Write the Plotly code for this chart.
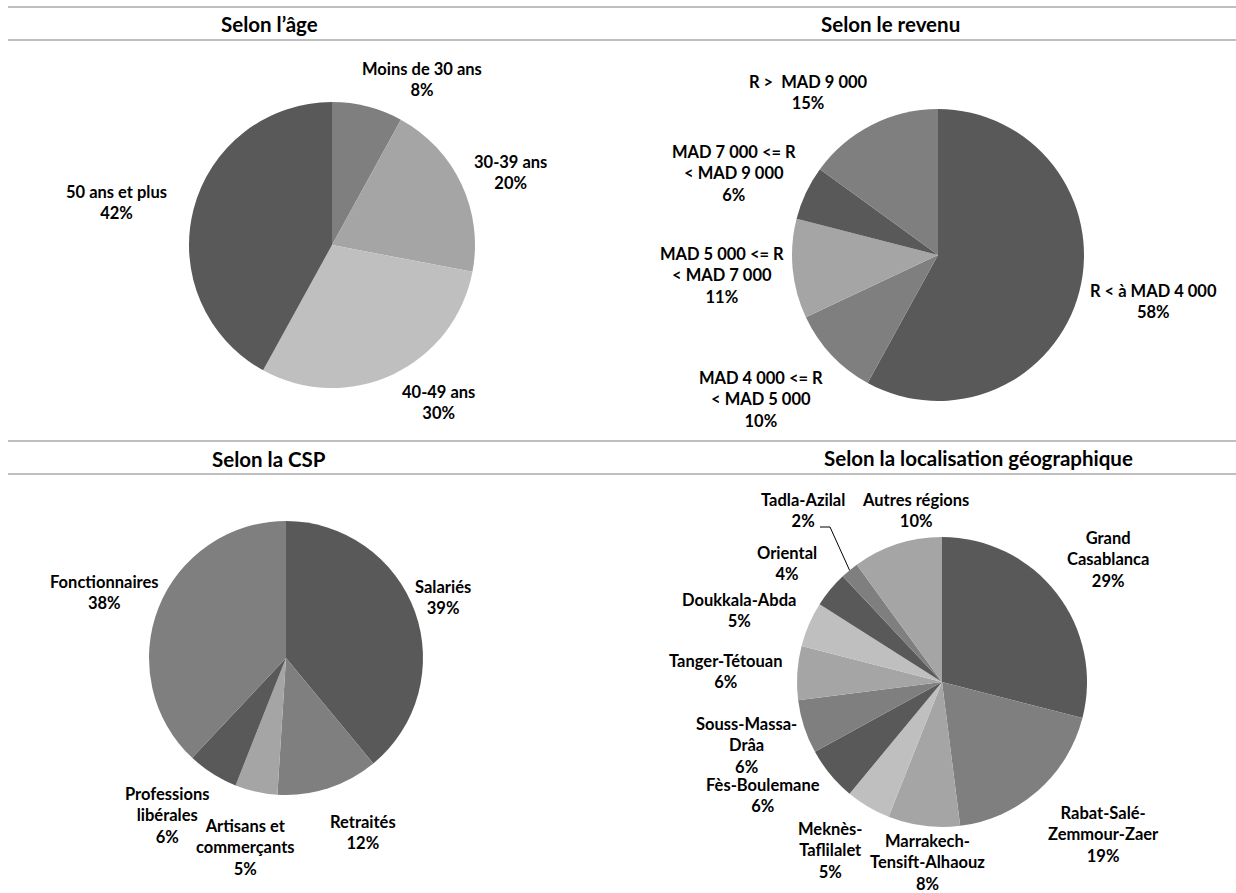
import math
import plotly.graph_objects as go

# ---- data -----------------------------------------------------------------
age_labels = ["Moins de 30 ans", "30-39 ans", "40-49 ans", "50 ans et plus"]
age_values = [8, 20, 30, 42]

rev_labels = ["R < à MAD 4 000", "MAD 4 000 <= R<br>< MAD 5 000",
              "MAD 5 000 <= R<br>< MAD 7 000", "MAD 7 000 <= R<br>< MAD 9 000",
              "R >  MAD 9 000"]
rev_values = [58, 10, 11, 6, 15]

csp_labels = ["Salariés", "Retraités", "Artisans et<br>commerçants",
              "Professions<br>libérales", "Fonctionnaires"]
csp_values = [39, 12, 5, 6, 38]

geo_labels = ["Grand<br>Casablanca", "Rabat-Salé-<br>Zemmour-Zaer",
              "Marrakech-<br>Tensift-Alhaouz", "Meknès-<br>Taflilalet",
              "Fès-Boulemane", "Souss-Massa-<br>Drâa", "Tanger-Tétouan",
              "Doukkala-Abda", "Oriental", "Tadla-Azilal", "Autres régions"]
geo_values = [29, 19, 8, 5, 6, 6, 6, 5, 4, 2, 10]

titles = ["Selon l’âge", "Selon le revenu", "Selon la CSP",
          "Selon la localisation géographique"]

# ---- layout constants (pixels) ---------------------------------------------
W, H = 1236, 893
FONT = "Lato"
LABEL_SIZE = 16.5
TITLE_SIZE = 20.5
DARK, MID, LIGHT, PALE = "#595959", "#7f7f7f", "#a5a5a5", "#bfbfbf"

age_colors = [MID, LIGHT, PALE, DARK]
rev_colors = [DARK, MID, LIGHT, DARK, MID]
csp_colors = [DARK, MID, LIGHT, DARK, MID]
geo_colors = [DARK, MID, LIGHT, PALE, DARK, MID, LIGHT, PALE, DARK, MID, LIGHT]

# pie centre and radius
pie_geom = [(332, 245, 143), (938, 255, 146), (286, 658, 137), (942, 682, 145)]

# label anchor points for each slice
age_pos = [(422, 80), (510, 172), (438, 402), (116, 202)]
rev_pos = [(1153, 302), (761, 399), (722, 275), (734, 174), (808, 93)]
csp_pos = [(443, 597), (363, 832), (245, 847), (167, 815), (104, 592)]
geo_pos = [(1108, 559), (1103, 834), (927, 862), (830, 850), (763, 795),
           (747, 745), (725, 671), (739, 610), (787, 563), (803, 510),
           (915, 510)]

title_pos = [(269, 24), (890, 24), (269, 459), (978, 458)]
rule_rows = [7, 40, 441, 474]


def px(x):
    return x / W


def py(y):
    return 1 - y / H


def bold_lines(text):
    return "<br>".join(f"<b>{part}</b>" for part in text.split("<br>"))


fig = go.Figure()
annotations = []
shapes = []

pies = [
    (age_labels, age_values, age_colors, age_pos),
    (rev_labels, rev_values, rev_colors, rev_pos),
    (csp_labels, csp_values, csp_colors, csp_pos),
    (geo_labels, geo_values, geo_colors, geo_pos),
]

for (labels, values, colors, pos), (cx, cy, r) in zip(pies, pie_geom):
    fig.add_trace(go.Pie(
        labels=[l.replace("<br>", " ") for l in labels],
        values=values,
        sort=False,
        direction="clockwise",
        rotation=0,
        textinfo="none",
        hoverinfo="label+percent",
        marker=dict(colors=colors, line=dict(width=0)),
        domain=dict(x=[px(cx - r), px(cx + r)], y=[py(cy + r), py(cy - r)]),
        showlegend=False,
    ))
    total = sum(values)
    for lab, v, (lx, ly) in zip(labels, values, pos):
        annotations.append(dict(
            x=px(lx), y=py(ly), xref="paper", yref="paper",
            text=bold_lines(f"{lab}<br>{round(100 * v / total)}%"),
            showarrow=False, align="center",
            xanchor="center", yanchor="middle",
            font=dict(family=FONT, size=LABEL_SIZE, color="#000000"),
        ))

# leader line for the small Tadla-Azilal slice
cx, cy, r = pie_geom[3]
idx = geo_labels.index("Tadla-Azilal")
total = sum(geo_values)
mid = (sum(geo_values[:idx]) + geo_values[idx] / 2) / total * 2 * math.pi
ex, ey = cx + r * math.sin(mid), cy - r * math.cos(mid)
lx, ly = geo_pos[idx]
shapes.append(dict(
    type="path", xref="paper", yref="paper",
    path=f"M {px(lx + 17)},{py(ly + 17)} L {px(lx + 27)},{py(ly + 17)} "
         f"L {px(ex)},{py(ey)}",
    line=dict(color="#000000", width=1),
))

# section headings and horizontal rules
for t, (tx, ty) in zip(titles, title_pos):
    annotations.append(dict(
        x=px(tx), y=py(ty), xref="paper", yref="paper", text=f"<b>{t}</b>",
        showarrow=False, xanchor="center", yanchor="middle",
        font=dict(family=FONT, size=TITLE_SIZE, color="#000000"),
    ))
for yy in rule_rows:
    shapes.append(dict(type="line", xref="paper", yref="paper",
                       x0=px(8), x1=1, y0=py(yy), y1=py(yy),
                       line=dict(color="#bfbfbf", width=2)))

fig.update_layout(
    width=W, height=H, autosize=False,
    margin=dict(l=0, r=0, t=0, b=0),
    paper_bgcolor="white", plot_bgcolor="white",
    font=dict(family=FONT, color="#000000"),
    annotations=annotations, shapes=shapes,
)

fig.write_html("out.html")
